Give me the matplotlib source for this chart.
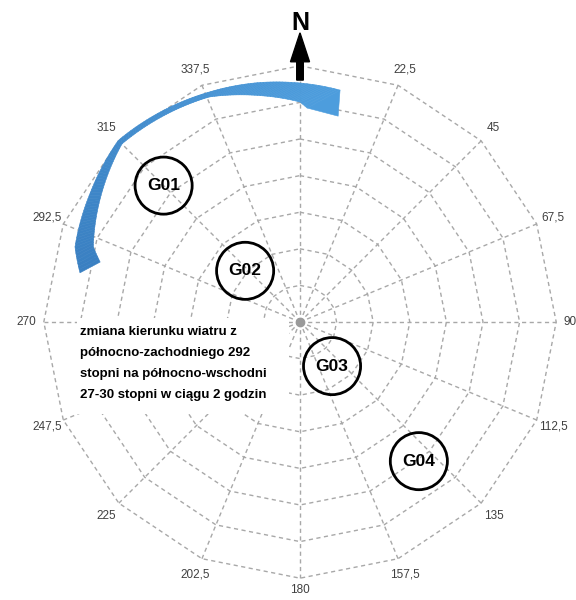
import numpy as np
import matplotlib
matplotlib.use('Agg')
import matplotlib.pyplot as plt
from matplotlib.patches import Circle, Rectangle, FancyArrow
from matplotlib.collections import PolyCollection
from matplotlib import font_manager
from matplotlib.colors import to_rgb

# Wind directions (deg, clockwise from north) and their labels
directions = np.arange(0, 360, 22.5)
direction_labels = ['', '22,5', '45', '67,5', '90', '112,5', '135', '157,5',
                    '180', '202,5', '225', '247,5', '270', '292,5', '315', '337,5']
rings = [1, 2, 3, 4, 5, 6, 7]

# Measurement points: direction and distance from centre (ring units)
point_names = ['G01', 'G02', 'G03', 'G04']
point_dirs = [315, 313, 144, 139.5]
point_dist = [5.27, 2.05, 1.49, 5.0]

note_lines = ['zmiana kierunku wiatru z',
              'północno-zachodniego 292',
              'stopni na północno-wschodni',
              '27-30 stopni w ciągu 2 godzin']

# Blue curved arrow (wind turning from NW to NE), outer / inner edges
arrow_outer_dir = [-77.4, -71.6, -58.4, -45, -22, -10, 0, 9.8]
arrow_outer_r = [6.16, 6.48, 6.73, 7.02, 6.76, 6.64, 6.53, 6.43]
arrow_inner_dir = [-73.3, -70, -57, -45, -22, -10, 0, 1.9]
arrow_inner_r = [5.70, 6.01, 6.46, 6.88, 6.63, 6.28, 6.01, 5.85]
arrow_tip = (10.5, 5.72)

PX = 36.6  # pixels per ring unit

names = {f.name for f in font_manager.fontManager.ttflist}
narrow = 'Liberation Sans Narrow' if 'Liberation Sans Narrow' in names else 'Liberation Sans'
note_size = 12.0 if narrow == 'Liberation Sans Narrow' else 9.5


def pol(deg, r):
    a = np.radians(deg)
    return r * np.sin(a), r * np.cos(a)


fig = plt.figure(figsize=(5.76, 6), dpi=100)
ax = fig.add_axes([0, 0, 1, 1])
ax.set_xlim(-300 / PX, 276 / PX)
ax.set_ylim(-278 / PX, 322 / PX)
ax.axis('off')

grid_kw = dict(color='#a8a8a8', lw=1.0, linestyle=(0, (3, 2.5)), zorder=1)
# rings (polygons through the spokes)
for r in rings:
    d = np.append(directions, directions[0])
    x, y = pol(d, r)
    ax.plot(x, y, **grid_kw)
# spokes
for d in directions:
    x, y = pol(d, np.array([0, rings[-1]]))
    ax.plot(x, y, **grid_kw)

# direction labels (kept inside the canvas)
for d, lab in zip(directions, direction_labels):
    x, y = pol(d, 7.48)
    ax.text(min(x, 270 / PX), max(y, -268 / PX), lab, ha='center', va='center',
            fontsize=8.5, family='Liberation Sans', color='#404040')

# centre dot
ax.plot(0, 0, 'o', ms=6, color='#9a9a9a', zorder=2)

# north arrow
ax.add_patch(FancyArrow(0, 6.61, 0, 1.29, width=0.18, head_width=0.52,
                        head_length=0.79, length_includes_head=True,
                        color='black', zorder=6))
ax.text(0, 8.17, 'N', ha='center', va='center', fontsize=18,
        fontweight='bold', family='Liberation Sans', zorder=6)

# blue curved arrow with slight colour gradient
n = 120
t = np.linspace(0, 1, n)
od = np.linspace(arrow_outer_dir[0], arrow_outer_dir[-1], n)
idr = np.linspace(arrow_inner_dir[0], arrow_inner_dir[-1], n)
orad = np.interp(od, arrow_outer_dir, arrow_outer_r)
irad = np.interp(idr, arrow_inner_dir, arrow_inner_r)
ox, oy = pol(od, orad)
ix, iy = pol(idr, irad)
c0, c1 = np.array(to_rgb('#3a80c2')), np.array(to_rgb('#4d9ddd'))
quads, cols = [], []
for i in range(n - 1):
    quads.append([(ox[i], oy[i]), (ox[i + 1], oy[i + 1]),
                  (ix[i + 1], iy[i + 1]), (ix[i], iy[i])])
    cols.append(c0 + (c1 - c0) * t[i])
tx, ty = pol(*arrow_tip)
quads.append([(ox[-1], oy[-1]), (tx, ty), (ix[-1], iy[-1])])
cols.append(c1)
ax.add_collection(PolyCollection(quads, facecolors=cols, edgecolors=cols,
                                 linewidths=0.4, zorder=4))

# white box behind note
ax.add_patch(Rectangle((-223 / PX, -92 / PX), 212 / PX, 96 / PX,
                       fc='white', ec='none', zorder=3))
for i, line in enumerate(note_lines):
    ax.text(-220 / PX, (322 - 332 - 21 * i) / PX, line, ha='left', va='center',
            fontsize=note_size, fontweight='bold', family=narrow, zorder=5)

# measurement point circles
for name, d, r in zip(point_names, point_dirs, point_dist):
    x, y = pol(d, r)
    ax.add_patch(Circle((x, y), 0.78, fill=False, lw=2.0, ec='black', zorder=5))
    ax.text(x, y, name, ha='center', va='center', fontsize=12.5,
            fontweight='bold', family='Liberation Sans', zorder=5)

fig.savefig('out.png', dpi=100)
